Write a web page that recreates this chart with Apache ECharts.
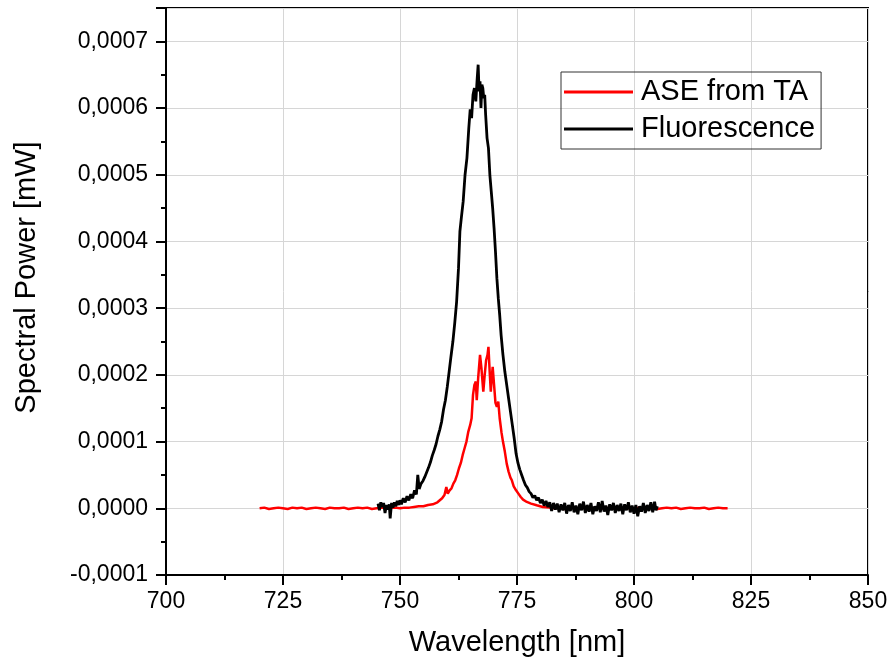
<!DOCTYPE html>
<html>
<head>
<meta charset="utf-8">
<script src="https://cdn.jsdelivr.net/npm/echarts@6/dist/echarts.min.js"></script>
<style>html,body{margin:0;padding:0;background:#fff}#c{width:892px;height:664px}</style>
</head>
<body>
<div id="c"></div>
<script>
// Power values are given in units of 1e-4 mW
const POWER_UNIT = 1e-4;
const seriesNames = ['ASE from TA', 'Fluorescence'];
const xTicks = [700, 725, 750, 775, 800, 825, 850];
const yTicks = [-0.0001, 0, 0.0001, 0.0002, 0.0003, 0.0004, 0.0005, 0.0006, 0.0007];

const aseSpectrum = [
[720,0.00],[721,0.01],[722,-0.01],[723,0.00],[724,0.01],[725,0.00],[726,-0.01],[727,0.01],[728,0.00],[729,0.01],
[730,-0.01],[731,0.00],[732,0.01],[733,0.00],[734,-0.01],[735,0.01],[736,0.00],[737,0.00],[738,0.01],[739,-0.01],
[740,0.00],[741,0.01],[742,0.00],[743,0.01],[744,-0.01],[745,0.00],[746,0.01],[747,0.00],[748,0.01],[749,0.01],
[750,0.00],[751,0.01],[752,0.01],[753,0.02],[754,0.03],[755,0.03],[756,0.05],[757,0.06],[758,0.09],[758.5,0.12],
[759,0.15],[759.5,0.20],[759.9,0.32],[760.2,0.22],[760.6,0.27],[761.0,0.30],[761.4,0.37],[761.8,0.42],[762.2,0.50],
[762.6,0.60],[763.0,0.68],[763.4,0.80],[763.8,0.90],[764.2,1.00],[764.6,1.15],[765.0,1.25],[765.3,1.35],[765.6,1.70],
[765.9,1.85],[766.2,1.90],[766.4,1.62],[766.7,1.95],[767.1,2.30],[767.4,2.10],[767.8,1.75],[768.1,2.00],[768.4,2.22],
[768.7,2.30],[768.9,2.42],[769.2,2.00],[769.4,1.75],[769.6,1.95],[769.8,2.12],[770.1,1.85],[770.4,1.58],[770.7,1.52],
[771.0,1.60],[771.3,1.35],[771.7,1.13],[772.0,1.00],[772.4,0.85],[772.8,0.67],[773.2,0.55],[773.6,0.46],[773.9,0.42],
[774.3,0.33],[774.8,0.27],[775.3,0.22],[775.8,0.17],[776.3,0.13],[777.1,0.095],[778.0,0.07],[779.2,0.045],[780.5,0.02],
[782,0.01],[783,0.00],[784,0.01],[785,-0.01],[786,0.00],[787,0.01],[788,0.00],[789,0.01],[790,-0.01],[791,0.00],
[792,0.01],[793,0.00],[794,0.00],[795,0.01],[796,-0.01],[797,0.00],[798,0.01],[799,0.00],[800,-0.01],[801,0.01],
[802,0.00],[803,0.01],[804,0.00],[805,-0.01],[806,0.00],[807,0.01],[808,0.00],[809,0.01],[810,-0.01],[811,0.00],
[812,0.01],[813,0.00],[814,0.00],[815,0.01],[816,-0.01],[817,0.00],[818,0.01],[819,0.00],[820,0.00]
];

const fluoSpectrum = [
[745.3,0.07],[745.6,-0.03],[745.9,0.09],[746.2,0.02],[746.5,0.08],[746.8,-0.07],[747.1,0.05],[747.4,-0.02],[747.7,0.06],[747.9,-0.15],
[748.2,0.08],[748.5,0.01],[748.8,0.09],[749.1,0.03],[749.4,0.11],[749.7,0.05],[750.0,0.12],[750.3,0.06],[750.7,0.15],
[751.1,0.09],[751.5,0.18],[751.9,0.12],[752.3,0.21],[752.7,0.15],[753.1,0.27],[753.5,0.21],[753.8,0.50],[754.1,0.29],
[754.5,0.37],[754.9,0.41],[755.3,0.47],[755.7,0.54],[756.1,0.61],[756.5,0.69],[756.9,0.79],[757.3,0.87],[757.7,0.96],
[758.1,1.08],[758.5,1.18],[758.9,1.30],[759.3,1.48],[759.7,1.62],[760.1,1.82],[760.5,2.05],[760.9,2.28],[761.3,2.50],
[761.7,2.78],[762.1,3.10],[762.5,3.60],[762.8,4.15],[763.1,4.35],[763.5,4.60],[763.9,5.00],[764.3,5.25],[764.7,5.70],
[765.0,5.98],[765.3,5.85],[765.6,6.20],[765.9,6.30],[766.2,6.10],[766.5,6.45],[766.7,6.65],[766.9,6.25],[767.1,6.40],
[767.3,6.00],[767.5,6.35],[767.7,6.30],[767.9,6.15],[768.1,6.20],[768.3,5.90],[768.6,5.55],[768.9,5.40],[769.2,5.00],
[769.5,4.75],[769.8,4.50],[770.1,4.20],[770.4,3.85],[770.7,3.45],[771.0,3.15],[771.3,2.90],[771.6,2.60],[772.0,2.30],
[772.4,2.05],[772.8,1.85],[773.2,1.65],[773.6,1.45],[774.0,1.25],[774.4,1.05],[774.8,0.82],[775.2,0.68],[775.6,0.58],
[776.0,0.50],[776.4,0.42],[776.8,0.35],[777.2,0.31],[777.6,0.25],[778.0,0.22],[778.4,0.16],[778.8,0.19],[779.2,0.12],
[779.6,0.16],[780.0,0.08],[780.4,0.13],[780.8,0.04],[781.2,0.11],[781.6,0.02],[782.0,0.09],[782.4,-0.04],[782.8,0.08],
[783.2,-0.02],[783.6,0.07],[784.0,-0.06],[784.4,0.06],[784.8,-0.03],[785.2,0.08],[785.6,-0.08],[786.0,0.05],[786.4,-0.04],
[786.8,0.09],[787.2,-0.06],[787.6,0.04],[788.0,-0.09],[788.4,0.07],[788.8,-0.03],[789.2,0.10],[789.6,-0.07],[790.0,0.05],
[790.4,-0.05],[790.8,0.08],[791.2,-0.09],[791.6,0.03],[792.0,-0.04],[792.4,0.09],[792.8,-0.06],[793.2,0.11],[793.6,-0.05],
[794.0,0.04],[794.4,-0.10],[794.8,0.06],[795.2,-0.03],[795.6,0.08],[796.0,-0.07],[796.4,0.05],[796.8,-0.04],[797.2,0.07],
[797.6,-0.09],[798.0,0.06],[798.4,-0.03],[798.8,0.09],[799.2,-0.06],[799.6,0.04],[800.0,-0.08],[800.4,0.05],[800.8,-0.12],
[801.2,0.03],[801.6,-0.05],[802.0,0.08],[802.4,-0.07],[802.8,0.05],[803.2,-0.04],[803.6,0.09],[804.0,-0.06],[804.4,0.10],
[804.7,-0.03],[805.0,0.03]
];

const FONT = '"Liberation Sans", Arial, sans-serif';
const toMW = arr => arr.map(p => [p[0], p[1] * POWER_UNIT]);

function yFmt(v) {
  const r = Math.round(v * 1e4);
  if (Math.abs(v * 1e4 - r) > 1e-6) return '';
  return (r / 1e4).toFixed(4).replace('.', ',');
}

const chart = echarts.init(document.getElementById('c'), null, {renderer: 'canvas'});
chart.setOption({
  animation: false,
  backgroundColor: '#fff',
  grid: { left: 166, top: 8, right: 24, bottom: 89, show: true, borderColor: '#000', borderWidth: 2, backgroundColor: 'transparent' },
  legend: {
    orient: 'vertical', left: 561, top: 72,
    data: seriesNames,
    icon: 'rect',
    itemWidth: 69, itemHeight: 3, itemGap: 7,
    padding: [5, 6, 5, 3],
    borderColor: '#333', borderWidth: 1,
    textStyle: { fontFamily: FONT, fontSize: 29, color: '#000', lineHeight: 30, padding: [0, 0, 0, 3] }
  },
  xAxis: {
    type: 'value', min: xTicks[0], max: xTicks[xTicks.length - 1], interval: 25,
    name: 'Wavelength [nm]', nameLocation: 'middle', nameGap: 53,
    nameTextStyle: { fontFamily: FONT, fontSize: 29, color: '#000' },
    axisLine: { show: true, onZero: false, lineStyle: { color: '#000', width: 2 } },
    axisTick: { show: true, inside: false, length: 10, lineStyle: { color: '#000', width: 2 } },
    minorTick: { show: true, splitNumber: 2, length: 5, lineStyle: { color: '#000', width: 2 } },
    axisLabel: { fontFamily: FONT, fontSize: 23, color: '#000', margin: 15 },
    splitLine: { show: true, lineStyle: { color: '#d6d6d6', width: 1 } }
  },
  yAxis: {
    type: 'value', min: yTicks[0], max: 0.00075, interval: 0.0001,
    name: 'Spectral Power [mW]', nameLocation: 'middle', nameGap: 125,
    nameTextStyle: { fontFamily: FONT, fontSize: 29, color: '#000', padding: [0, 0, 0, 28] },
    axisLine: { show: true, onZero: false, lineStyle: { color: '#000', width: 2 } },
    axisTick: { show: true, inside: false, length: 10, lineStyle: { color: '#000', width: 2 } },
    minorTick: { show: true, splitNumber: 2, length: 5, lineStyle: { color: '#000', width: 2 } },
    axisLabel: { fontFamily: FONT, fontSize: 23, color: '#000', margin: 18, formatter: yFmt, showMaxLabel: false },
    splitLine: { show: true, lineStyle: { color: '#d6d6d6', width: 1 } }
  },
  series: [
    { name: seriesNames[0], type: 'line', data: toMW(aseSpectrum), symbol: 'none', color: '#ff0000',
      lineStyle: { color: '#ff0000', width: 2.5 } },
    { name: seriesNames[1], type: 'line', data: toMW(fluoSpectrum), symbol: 'none', color: '#000000',
      lineStyle: { color: '#000000', width: 2.8 } }
  ]
});
</script>
</body>
</html>
